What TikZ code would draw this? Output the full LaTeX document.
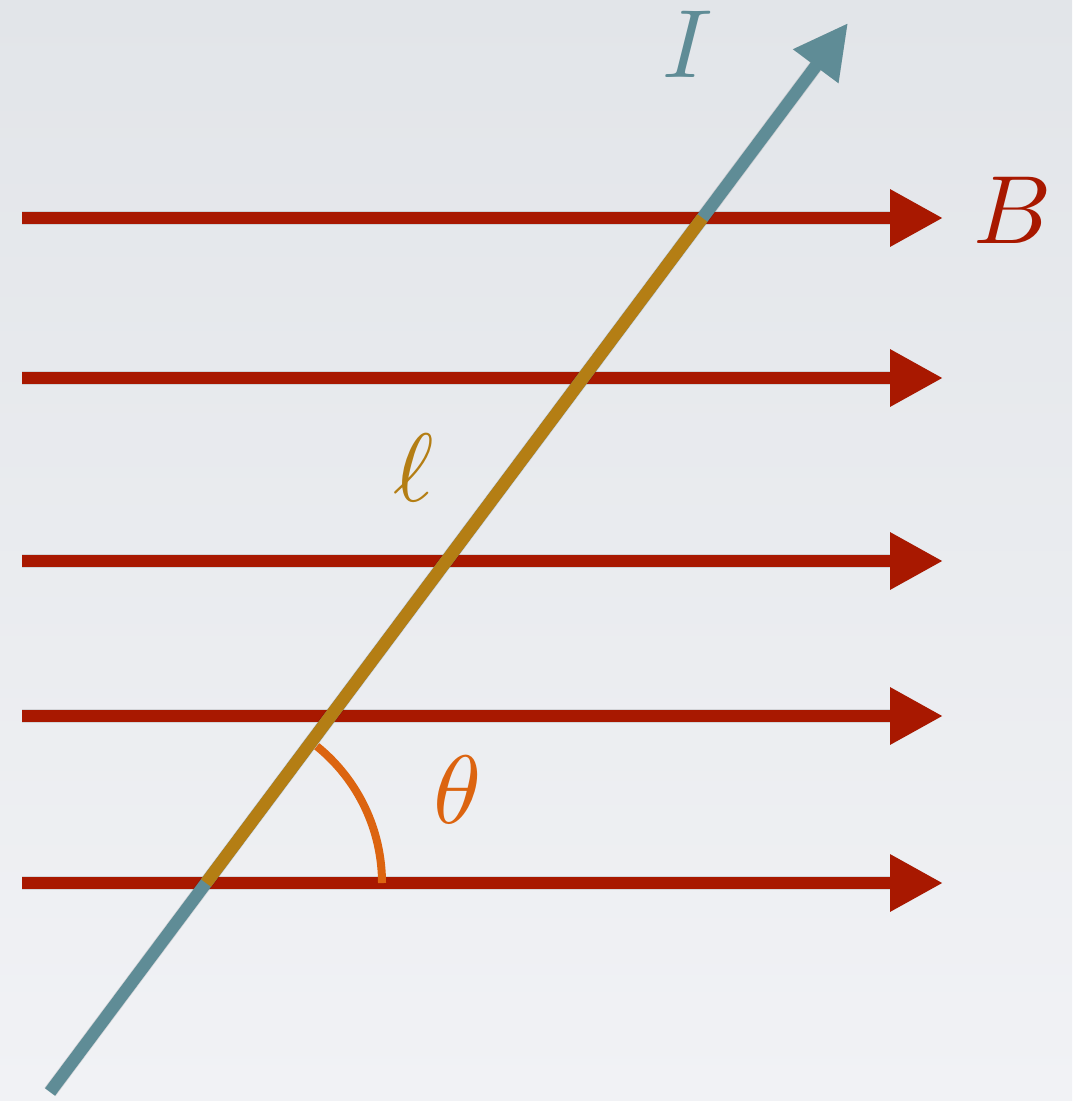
\documentclass[tikz,border=0pt]{standalone}
\usepackage{graphicx}
\usetikzlibrary{arrows.meta,calc}
\definecolor{bred}{RGB}{168,24,0}
\definecolor{iteal}{RGB}{95,140,150}
\definecolor{lgold}{RGB}{180,126,20}
\definecolor{tor}{RGB}{220,100,16}
\definecolor{bgtop}{RGB}{226,229,233}
\definecolor{bgbot}{RGB}{241,242,245}
\newcommand{\biglbl}[1]{\scalebox{9.7}{\normalsize$#1$}}
\begin{document}
\begin{tikzpicture}[x=1pt,y=-1pt,
  field/.style={draw=bred,line width=12.5pt,-{Triangle[length=53pt,width=54pt]}},
  current/.style={draw=iteal,line width=12.5pt,-{Triangle[length=54pt,width=53pt]}},
  segment/.style={draw=lgold,line width=12.5pt,line cap=butt},
  anglearc/.style={draw=tor,line width=8pt},
  shadowline/.style={draw=black,opacity=0.10,line width=14pt,shift={(2,4)}},
  lbl/.style={inner sep=0pt}]
\fill[top color=bgtop,bottom color=bgbot] (0,0) rectangle (1072,1101);
\useasboundingbox (0,0) rectangle (1072,1101);
% field lines
\foreach \k/\y in {1/218,2/378,3/561,4/716,5/883}{
  \coordinate (b\k) at (22,\y);
  \coordinate (e\k) at (943,\y);
}
\foreach \k in {1,...,5}{
  \draw[shadowline,-{Triangle[length=53pt,width=54pt]}] (b\k) -- (e\k);
}
\foreach \k in {1,...,5}{
  \draw[field] (b\k) -- (e\k);
}
% current
\coordinate (s) at (50,1092);
\coordinate (t) at (848,23);
\coordinate (g1) at ($(s)!0.1955!(t)$);
\coordinate (g2) at ($(s)!0.8176!(t)$);
\draw[shadowline,-{Triangle[length=54pt,width=53pt]}] (s) -- (t);
\draw[current] (s) -- (t);
\draw[segment] (g1) -- (g2);
% angle
\draw[anglearc] ($(g1)+(176,0)$) arc[start angle=0,end angle=-51,radius=176];
% labels
\node[lbl,text=iteal] (I) at (688,44) {\biglbl{I}};
\node[lbl,text=bred] (B) at (1013,210) {\biglbl{B}};
\node[lbl,text=lgold] (l) at (414,468) {\biglbl{\ell}};
\node[lbl,text=tor] (th) at (458,790) {\biglbl{\theta}};
\end{tikzpicture}
\end{document}
